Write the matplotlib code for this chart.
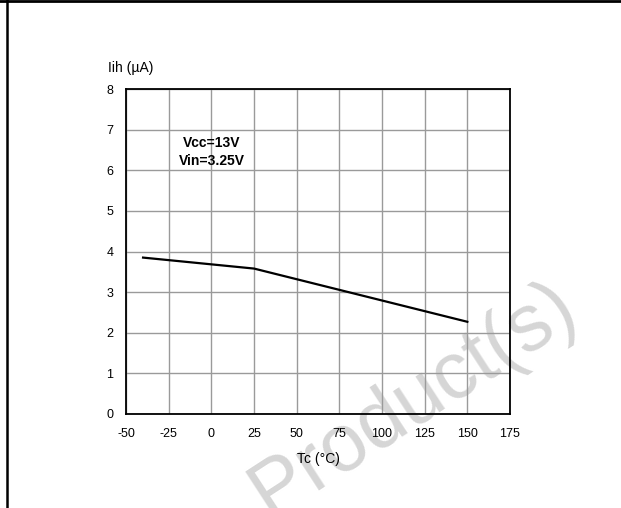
import matplotlib
matplotlib.use("Agg")
import matplotlib.pyplot as plt
from matplotlib.lines import Line2D

plt.rcParams['font.family'] = ['Liberation Sans', 'DejaVu Sans']
plt.rcParams['axes.unicode_minus'] = False

tc = [-40, 25, 150]
iih = [3.85, 3.58, 2.27]
xticks = [-50, -25, 0, 25, 50, 75, 100, 125, 150, 175]
yticks = [0, 1, 2, 3, 4, 5, 6, 7, 8]

W, H = 621, 508
fig = plt.figure(figsize=(W / 100, H / 100), dpi=100)

fig.text(413 / W, 1 - 400 / H, 'Product(s)', fontsize=58, color='#d6d6d6',
         rotation=33, ha='center', va='center', zorder=0)

ax = fig.add_axes([126 / W, 1 - 414 / H, (510 - 126) / W, (414 - 89) / H])
ax.patch.set_visible(False)
ax.set_zorder(1)

ax.plot(tc, iih, color='black', lw=1.6, zorder=3)
ax.set_xlim(-50, 175)
ax.set_ylim(0, 8)
ax.set_xticks(xticks)
ax.set_yticks(yticks)
ax.grid(True, color='#9a9a9a', lw=1.0)
ax.tick_params(length=0, labelsize=9)
ax.tick_params(axis='x', pad=10)
ax.tick_params(axis='y', pad=9)
for s in ax.spines.values():
    s.set_color('black')
    s.set_linewidth(1.3)
ax.set_xlabel('Tc (°C)', fontsize=10, labelpad=9)

fig.text(108 / W, 1 - 68 / H, 'Iih (µA)', fontsize=10, ha='left', va='center')
ax.text(0.3, 6.45, 'Vcc=13V\nVin=3.25V', fontsize=10, fontweight='bold',
        ha='center', va='center', linespacing=1.35)

fig.add_artist(Line2D([0, 1], [1 - 1 / H, 1 - 1 / H], transform=fig.transFigure,
                      color='black', lw=2.0))
fig.add_artist(Line2D([6.5 / W, 6.5 / W], [0, 1], transform=fig.transFigure,
                      color='black', lw=1.8))

fig.savefig('out.png', dpi=100)
